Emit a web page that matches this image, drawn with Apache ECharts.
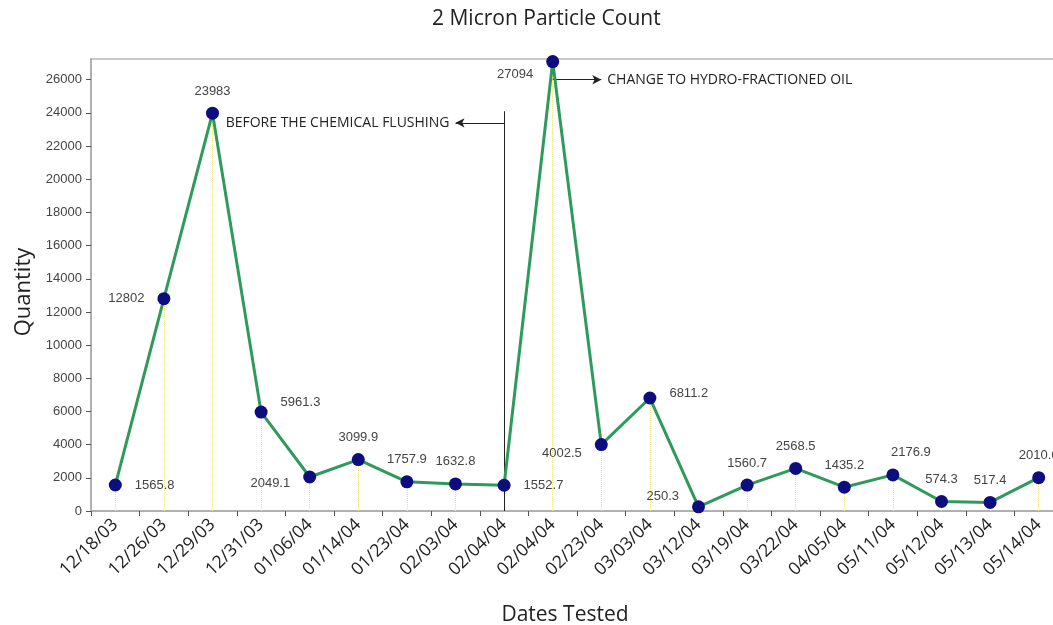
<!DOCTYPE html>
<html><head><meta charset="utf-8">
<script src="https://cdn.jsdelivr.net/npm/echarts@6/dist/echarts.min.js"></script>
<style>html,body{margin:0;padding:0;background:#fff;overflow:hidden}#c{width:1064px;height:625px}</style>
</head><body><div id="c"></div>
<script>
const categories = ['12/18/03','12/26/03','12/29/03','12/31/03','01/06/04','01/14/04','01/23/04','02/03/04','02/04/04','02/04/04','02/23/04','03/03/04','03/12/04','03/19/04','03/22/04','04/05/04','05/11/04','05/12/04','05/13/04','05/14/04'];
const values = [1565.8,12802,23983,5961.3,2049.1,3099.9,1757.9,1632.8,1552.7,27094,4002.5,6811.2,250.3,1560.7,2568.5,1435.2,2176.9,574.3,517.4,2010.6];
// label placement per point: [position, offsetX, offsetY]
const labelPos = [['right',0,0],['left',0,0],['top',0,0],['right',0,-10],['left',0,6],['top',0,0],['top',0,0],['top',0,0],['right',0,0],['left',0,13],['left',0,9],['right',0,-5],['left',0,-10],['top',0,0],['top',0,0],['top',0,0],['top',18,0],['top',0,0],['top',0,0],['top',0,0]];
const yTicks = {min:0, max:27250, interval:2000};
const annotations = {
  flushText: 'BEFORE THE CHEMICAL FLUSHING',
  oilText: 'CHANGE TO HYDRO-FRACTIONED OIL'
};

const chart = echarts.init(document.getElementById('c'));
const font = '"Open Sans", "Liberation Sans", sans-serif';
const labFont = '"Liberation Sans", Arial, sans-serif';

const seriesData = values.map((v,i)=>({
  value:v,
  label:{show:true, position:labelPos[i][0], offset:[labelPos[i][1],labelPos[i][2]], distance: labelPos[i][0]==='top'?9:13}
}));
const dropLines = values.map((v,i)=>[{coord:[i,0]},{coord:[i,v]}]);

chart.setOption({
  animation:false,
  backgroundColor:'#fff',
  title:{text:'2 Micron Particle Count', left:427, top:4,
    textStyle:{fontFamily:font, fontSize:21, fontWeight:'normal', color:'#222'}},
  grid:{left:91, top:59, width:972, bottom:114, show:true, borderColor:'#c8c8c8', borderWidth:2,
    containLabel:false, outerBoundsMode:'none'},
  xAxis:{type:'category', data:categories, boundaryGap:true,
    name:'Dates Tested', nameLocation:'middle', nameGap:94,
    nameTextStyle:{fontFamily:font, fontSize:21, color:'#222', padding:[0,24,0,0]},
    axisLine:{lineStyle:{color:'#b0b0b0', width:2}},
    axisTick:{show:true, length:5, lineStyle:{color:'#555'}},
    axisLabel:{rotate:44, interval:0, fontFamily:font, fontSize:17.5, color:'#222', margin:11},
    splitLine:{show:false}},
  yAxis:{type:'value', min:yTicks.min, max:yTicks.max, interval:yTicks.interval,
    name:'Quantity', nameLocation:'middle', nameGap:56,
    nameTextStyle:{fontFamily:font, fontSize:22, color:'#222', padding:[0,14,0,0]},
    axisLine:{show:true, lineStyle:{color:'#b0b0b0', width:2}},
    axisTick:{show:true, length:5, lineStyle:{color:'#555'}},
    axisLabel:{fontFamily:labFont, fontSize:13, color:'#444', margin:9, showMaxLabel:false,
      formatter:(v)=>String(v)},
    splitLine:{show:false}},
  series:[{
    type:'line', data:seriesData,
    symbol:'circle', symbolSize:13,
    itemStyle:{color:'#0d0d80'},
    lineStyle:{color:'#2f9a5c', width:3},
    label:{fontFamily:labFont, fontSize:13, color:'#444'},
    z:5,
    markLine:{silent:true, symbol:['none','none'], animation:false,
      lineStyle:{type:'dotted', color:'#ece48a', width:1},
      label:{show:false}, data:dropLines, z:1},
  },{
    type:'line', data:[], silent:true,
    markLine:{silent:true, animation:false, symbol:['none','arrow'], symbolSize:[7,9],
      lineStyle:{type:'solid', color:'#222', width:1},
      label:{show:true, position:'end', fontFamily:font, fontSize:14, color:'#222', distance:6},
      data:[
        [{coord:[8,0], symbol:'none'},{coord:[8,24100], symbol:'none', label:{show:false}}],
        [{coord:[7.97,23400]},{coord:[7.22,23400], label:{formatter:annotations.flushText}}],
        [{coord:[9.05,26000]},{coord:[10.1,26000], label:{formatter:annotations.oilText}}]
      ]}
  }]
});
</script></body></html>
